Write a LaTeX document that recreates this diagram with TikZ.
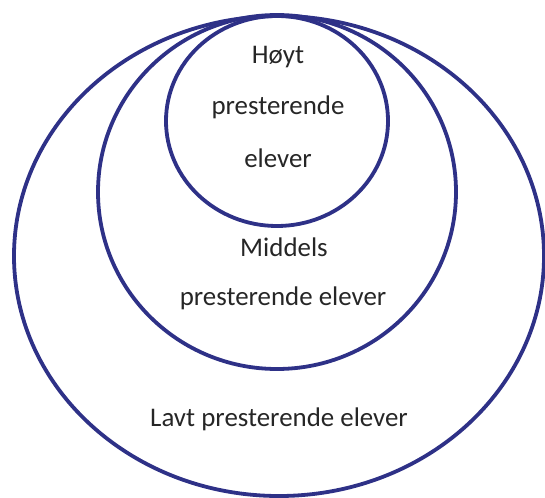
\documentclass[tikz,border=0pt]{standalone}
\usepackage{fontspec}
\setmainfont{Carlito}
\definecolor{ring}{RGB}{46,49,135}
\definecolor{label}{RGB}{38,38,38}
\begin{document}
\begin{tikzpicture}[x=1pt,y=-1pt,
  ringline/.style={draw=ring,line width=3.8pt},
  lbl/.style={text=label,font=\fontsize{26.9}{26.9}\selectfont,inner sep=0pt,anchor=center}]
\useasboundingbox (0,0) rectangle (545,497);
% nested groups, outermost first
\draw[ringline] (279,256) ellipse [x radius=265, y radius=240];
\draw[ringline] (277,192) ellipse [x radius=179, y radius=177];
\draw[ringline] (277,121) ellipse [x radius=111, y radius=105];
% labels
\node[lbl] (hoyt1) at (278,57) {Høyt};
\node[lbl] (hoyt2) at (278,107) {presterende};
\node[lbl] (hoyt3) at (278,158) {elever};
\node[lbl] (mid1) at (284,247) {Middels};
\node[lbl] (mid2) at (283,298) {presterende elever};
\node[lbl] (lavt) at (279,419) {Lavt presterende elever};
\end{tikzpicture}
\end{document}
